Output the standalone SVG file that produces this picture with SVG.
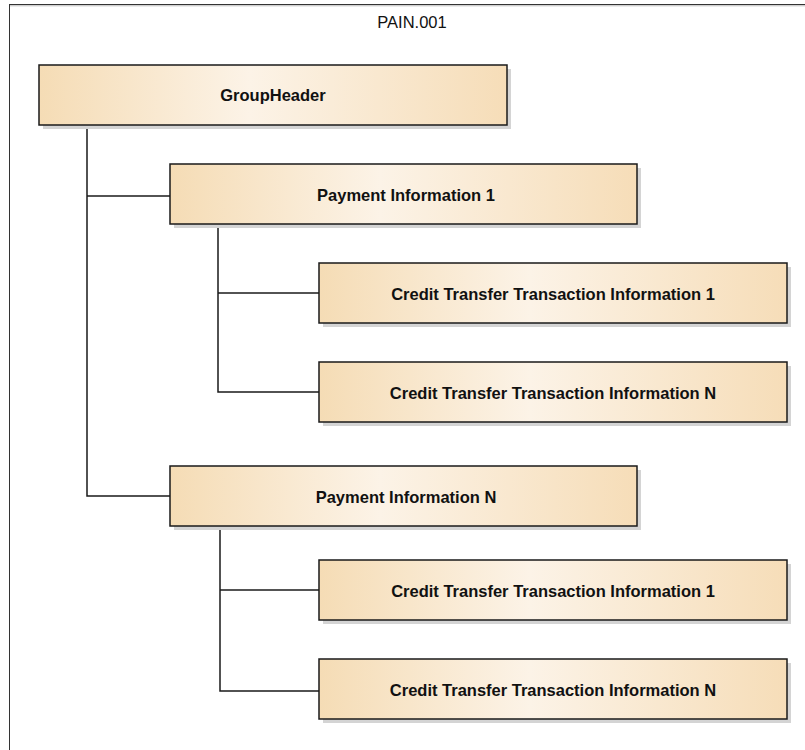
<svg xmlns="http://www.w3.org/2000/svg" width="805" height="750" viewBox="0 0 805 750">
<defs>
<linearGradient id="fill" x1="0" y1="0" x2="1" y2="0">
<stop offset="0" stop-color="#F5DCB5"/>
<stop offset="0.45" stop-color="#FCF3E7"/>
<stop offset="1" stop-color="#F6DDB8"/>
</linearGradient>
<style>
.box{fill:url(#fill);stroke:#1a1a1a;stroke-width:1.5}
.shadow{fill:#d4d4d4}
.lbl{font-family:"Liberation Sans",Arial,sans-serif;font-size:16.5px;font-weight:bold;fill:#111;text-anchor:middle;dominant-baseline:central}
.title{font-family:"Liberation Sans",Arial,sans-serif;font-size:16.5px;fill:#111;text-anchor:middle}
.conn{fill:none;stroke:#1a1a1a;stroke-width:1.5}
</style>
</defs>
<rect width="805" height="750" fill="#fff"/>
<g id="frame">
<rect x="9.5" y="4.5" width="820" height="800" fill="none" stroke="#333" stroke-width="1"/>
<line x1="10" y1="5.8" x2="805" y2="5.8" stroke="#bbb" stroke-width="1"/>
<text class="title" x="412" y="28">PAIN.001</text>
</g>
<g id="connectors">
<polyline class="conn" points="87,125 87,496 170,496"/>
<line class="conn" x1="87" y1="196" x2="170" y2="196"/>
<polyline class="conn" points="218,224 218,392 319,392"/>
<line class="conn" x1="218" y1="293" x2="319" y2="293"/>
<polyline class="conn" points="220,526 220,691 319,691"/>
<line class="conn" x1="220" y1="590" x2="319" y2="590"/>
</g>
<g id="groupheader">
<rect class="shadow" x="43" y="69" width="468" height="60"/>
<rect class="box" x="39" y="65" width="468" height="60"/>
<text class="lbl" x="273" y="95">GroupHeader</text>
</g>
<g id="payment1">
<rect class="shadow" x="174" y="168" width="467" height="60"/>
<rect class="box" x="170" y="164" width="467" height="60"/>
<text class="lbl" x="406" y="195">Payment Information 1</text>
</g>
<g id="ct1a">
<rect class="shadow" x="323" y="267" width="468" height="60"/>
<rect class="box" x="319" y="263" width="468" height="60"/>
<text class="lbl" x="553" y="294">Credit Transfer Transaction Information 1</text>
</g>
<g id="ctna">
<rect class="shadow" x="323" y="366" width="468" height="60"/>
<rect class="box" x="319" y="362" width="468" height="60"/>
<text class="lbl" x="553" y="393">Credit Transfer Transaction Information N</text>
</g>
<g id="paymentN">
<rect class="shadow" x="174" y="470" width="467" height="60"/>
<rect class="box" x="170" y="466" width="467" height="60"/>
<text class="lbl" x="406" y="497">Payment Information N</text>
</g>
<g id="ct1b">
<rect class="shadow" x="323" y="564" width="468" height="60"/>
<rect class="box" x="319" y="560" width="468" height="60"/>
<text class="lbl" x="553" y="591">Credit Transfer Transaction Information 1</text>
</g>
<g id="ctnb">
<rect class="shadow" x="323" y="663" width="468" height="60"/>
<rect class="box" x="319" y="659" width="468" height="60"/>
<text class="lbl" x="553" y="690">Credit Transfer Transaction Information N</text>
</g>
</svg>
